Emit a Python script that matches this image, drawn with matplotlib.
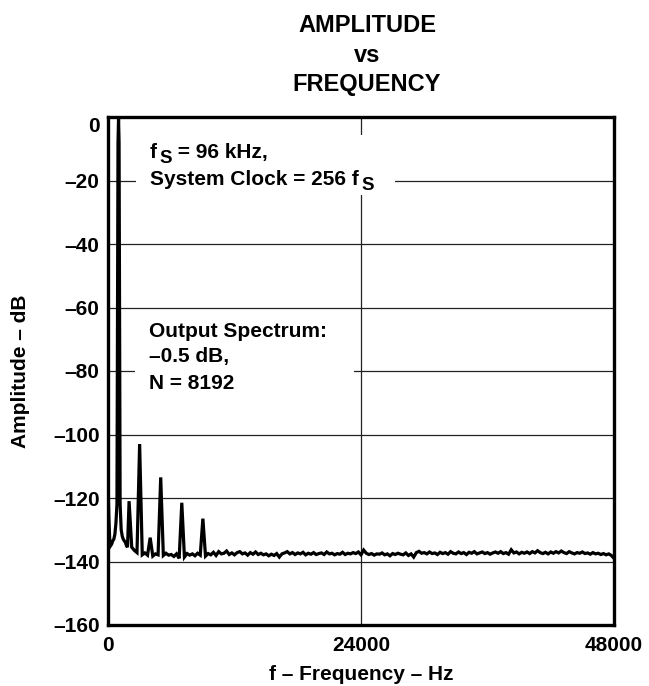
import numpy as np
import matplotlib
matplotlib.use("Agg")
import matplotlib.pyplot as plt
from matplotlib.patches import Rectangle

plt.rcParams['font.family'] = ['Liberation Sans', 'DejaVu Sans']
plt.rcParams['font.weight'] = 'bold'

# low end of the spectrum: DC skirt and the 1 kHz fundamental
low_freq = [0, 80, 160, 250, 350, 450, 550, 650, 750, 850, 900, 950, 1000,
            1050, 1100, 1150, 1250, 1350, 1450, 1550, 1650, 1750, 1850]
low_amp = [-115, -126, -133, -135, -134.5, -133.5, -133, -131.5, -128, -122,
           -60, -8, -0.5, -8, -60, -122, -130, -132, -133, -133.5, -134,
           -135, -135.5]

# noise floor, 250 Hz bins from 2 kHz to 48 kHz
floor_start = 2000
floor_step = 250
floor_amp = [
    -130.0, -135.5, -136.5, -137.2, -137.5, -137.9, -137.3, -138.0, -137.6, -138.3,
    -137.6, -137.9, -137.7, -138.1, -137.4, -138.0, -137.8, -138.4, -137.6, -139.0,
    -137.8, -138.6, -137.5, -138.0, -137.6, -138.2, -137.4, -138.0, -137.7, -138.3,
    -137.5, -137.9, -137.1, -138.1, -136.9, -137.6, -137.4, -136.7, -137.8, -137.3,
    -137.9, -137.2, -136.9, -137.6, -137.3, -138.0, -137.2, -137.7, -137.0, -137.8,
    -137.4, -137.9, -137.6, -138.2, -137.7, -138.1, -137.5, -138.6, -137.6, -137.3,
    -136.9, -137.6, -137.2, -137.8, -137.3, -137.6, -137.1, -137.9, -137.4, -137.7,
    -137.2, -137.8, -137.5, -137.3, -137.8, -137.0, -137.6, -137.4, -137.9, -137.5,
    -137.7, -137.1, -137.8, -137.4, -137.6, -137.2, -137.5, -137.0, -137.9, -136.4,
    -137.4, -137.8, -137.5, -138.0, -137.6, -137.7, -137.3, -137.9, -137.6, -138.2,
    -137.5, -137.8, -137.4, -137.7, -137.9, -137.3, -138.1, -137.6, -138.6, -137.2,
    -136.8, -137.4, -137.2, -137.6, -137.0, -137.5, -137.3, -137.8, -137.1, -137.5,
    -137.2, -137.7, -136.9, -137.4, -137.6, -137.0, -137.5, -137.2, -137.8, -137.1,
    -137.4, -136.9, -137.6, -137.3, -137.0, -137.5, -137.2, -137.7, -137.3, -137.0,
    -137.4, -136.9, -137.5, -137.2, -137.7, -136.3, -137.3, -137.0, -137.6, -137.1,
    -137.4, -137.0, -137.5, -136.9, -137.3, -136.6, -137.2, -137.5, -137.1, -137.6,
    -137.0, -137.4, -136.9, -137.3, -136.7, -137.2, -137.5, -136.9, -137.3, -137.6,
    -137.2, -137.4, -137.0, -137.5, -137.3, -137.7, -137.2, -137.6, -137.4, -137.8,
    -137.5, -137.9, -137.6, -138.1, -139.0,
]

# harmonics of the 1 kHz tone
harm_freq = [2000, 3000, 4000, 5000, 7000, 9000]
harm_amp = [-121, -103, -132.5, -113.5, -121.5, -126.5]

y_ticks = [0, -20, -40, -60, -80, -100, -120, -140, -160]
y_labels = ['0', '–20', '–40', '–60', '–80', '–100', '–120', '–140', '–160']
x_ticks = [0, 24000, 48000]
x_labels = ['0', '24000', '48000']

floor_freq = floor_start + floor_step * np.arange(len(floor_amp))
floor_vals = np.array(floor_amp, dtype=float)
for f, a in zip(harm_freq, harm_amp):
    floor_vals[floor_freq == f] = a

freq = np.concatenate([low_freq, floor_freq])
amp = np.concatenate([low_amp, floor_vals])

fig = plt.figure(figsize=(6.49, 6.86), dpi=100)
ax = fig.add_axes([108 / 649, 1 - 625 / 686, 506 / 649, 508 / 686])

ax.plot(freq, amp, color='black', lw=2.3, zorder=4, solid_joinstyle='miter')

ax.set_xlim(0, 48000)
ax.set_ylim(-160, 0)
ax.set_xticks(x_ticks)
ax.set_xticklabels(x_labels, fontsize=15, fontweight='bold')
ax.set_yticks(y_ticks)
ax.set_yticklabels(y_labels, fontsize=15, fontweight='bold')
ax.get_yticklabels()[0].set_va('top')
ax.tick_params(axis='both', length=0)
ax.tick_params(axis='x', pad=8)
ax.tick_params(axis='y', pad=6)
ax.grid(True, color='#222222', lw=0.9)
ax.set_axisbelow(True)
for s in ax.spines.values():
    s.set_linewidth(2.4)
    s.set_zorder(5)

# white patches behind the notes (they break the grid lines)
ax.add_patch(Rectangle((0.0553, 0.846), 0.512, 0.118, transform=ax.transAxes,
                       facecolor='white', edgecolor='none', zorder=2))
ax.add_patch(Rectangle((0.0534, 0.447), 0.433, 0.161, transform=ax.transAxes,
                       facecolor='white', edgecolor='none', zorder=2))


def note_sub(x, y, head, sub, tail=''):
    # text with a big, lowered "S" subscript like the data sheet
    t = ax.text(x, y, head, transform=ax.transAxes, fontsize=15,
                fontweight='bold', va='baseline', zorder=3)
    s = ax.annotate(sub, xy=(1, y), xycoords=(t, ax.transAxes),
                    xytext=(1.8, -3.6), textcoords='offset points',
                    fontsize=13.5, fontweight='bold', va='baseline', zorder=3)
    if tail:
        ax.annotate(tail, xy=(1, y), xycoords=(s, ax.transAxes),
                    fontsize=15, fontweight='bold', va='baseline', zorder=3)


note_sub(0.083, 0.919, 'f', 'S', ' = 96 kHz,')
note_sub(0.083, 0.866, 'System Clock = 256 f', 'S')

ax.text(0.0816, 0.567, 'Output Spectrum:', transform=ax.transAxes,
        fontsize=15, fontweight='bold', va='baseline', zorder=3)
ax.text(0.0816, 0.518, '–0.5 dB,', transform=ax.transAxes,
        fontsize=15, fontweight='bold', va='baseline', zorder=3)
ax.text(0.0816, 0.465, 'N = 8192', transform=ax.transAxes,
        fontsize=15, fontweight='bold', va='baseline', zorder=3)

fig.text(367 / 649, 1 - 32 / 686, 'AMPLITUDE', ha='center', va='baseline',
         fontsize=17, fontweight='bold')
fig.text(367 / 649, 1 - 62 / 686, 'vs', ha='center', va='baseline',
         fontsize=17, fontweight='bold')
fig.text(367 / 649, 1 - 91 / 686, 'FREQUENCY', ha='center', va='baseline',
         fontsize=17, fontweight='bold')

fig.text(361 / 649, 1 - 680 / 686, 'f – Frequency – Hz', ha='center',
         va='baseline', fontsize=15, fontweight='bold')
fig.text(21 / 649, 1 - 371 / 686, 'Amplitude – dB', ha='center', va='center',
         rotation=90, fontsize=15, fontweight='bold')

fig.savefig('out.png', dpi=100)
